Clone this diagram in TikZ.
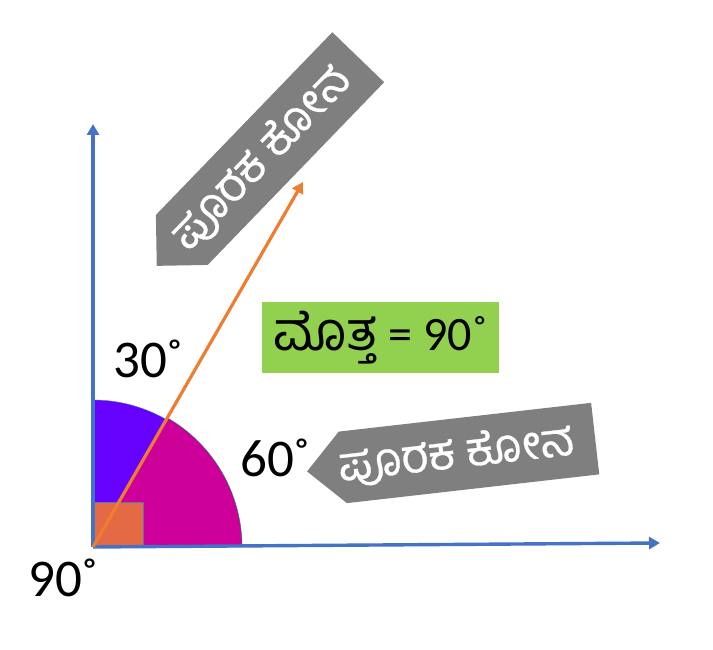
\documentclass[tikz,border=0pt]{standalone}
\usepackage{fontspec}
\setmainfont{Carlito}
\newfontfamily\kanfont[Script=Kannada, FakeBold=0.6]{Hind Mysuru}
\newfontfamily\kanplain[Script=Kannada]{Hind Mysuru}
\usetikzlibrary{arrows.meta, shapes.symbols}
\definecolor{axisblue}{HTML}{4472C4}
\definecolor{rayorange}{HTML}{ED7D31}
\definecolor{boxgreen}{HTML}{92D050}
\definecolor{signgray}{HTML}{7F7F7F}
\definecolor{violetpart}{HTML}{6600FF}
\definecolor{magentapart}{HTML}{CC0099}
\definecolor{squarefill}{HTML}{E36A45}
\begin{document}
\begin{tikzpicture}[x=1pt, y=1pt,
    axis/.style = {axisblue, line width=3.4pt, -{Triangle[length=11pt, width=12pt]}},
    ray/.style = {rayorange, line width=3.2pt, -{Triangle[length=11pt, width=12pt]}},
    deg/.style = {anchor=base west, inner sep=0pt, font=\fontsize{53}{60}\selectfont},
    sign/.style = {shape=signal, signal to=west, signal pointer angle=90,
                   fill=signgray, text=white, minimum width=290pt, minimum height=72pt,
                   inner sep=0pt, font=\kanfont\fontsize{47}{52}\selectfont}]
  \useasboundingbox (0,0) rectangle (713,650);
  \coordinate (O) at (93,103);
  \coordinate (X) at (660,107);
  \coordinate (Y) at (93,526);
  \coordinate (R) at (303,468);
  % the two parts of the right angle
  \fill[violetpart, draw=axisblue, thin] (O) -- ++(90:147) arc (90:60:147) -- cycle;
  \fill[magentapart, draw=teal, thin] (O) -- ++(60:149) arc (60:0:149) -- cycle;
  \draw[axisblue!60!gray, line width=1pt, fill=squarefill] (O) rectangle ++(50,44);
  \draw[axis] (O) -- (X);
  \draw[axis] (O) -- (Y);
  \draw[ray] (O) -- (R);
  \node[deg] (a30) at (113,272) {30˚};
  \node[deg] (a60) at (240,173) {60˚};
  \node[deg] (a90) at (28,53) {90˚};
  \node[fill=boxgreen, minimum width=237pt, minimum height=71pt, inner sep=0pt,
        font=\fontsize{48}{54}\selectfont] (sum) at (380.5,312.5)
        {{\kanplain\fontsize{54}{60}\selectfont ಮೊತ್ತ} = 90˚};
  \node[sign, rotate=46] (top) at (270,501.4) {\kern-26pt ಪೂರಕ ಕೋನ};
  \node[sign, rotate=6.5] (low) at (469,197) {\kern-26pt ಪೂರಕ ಕೋನ};
\end{tikzpicture}
\end{document}
